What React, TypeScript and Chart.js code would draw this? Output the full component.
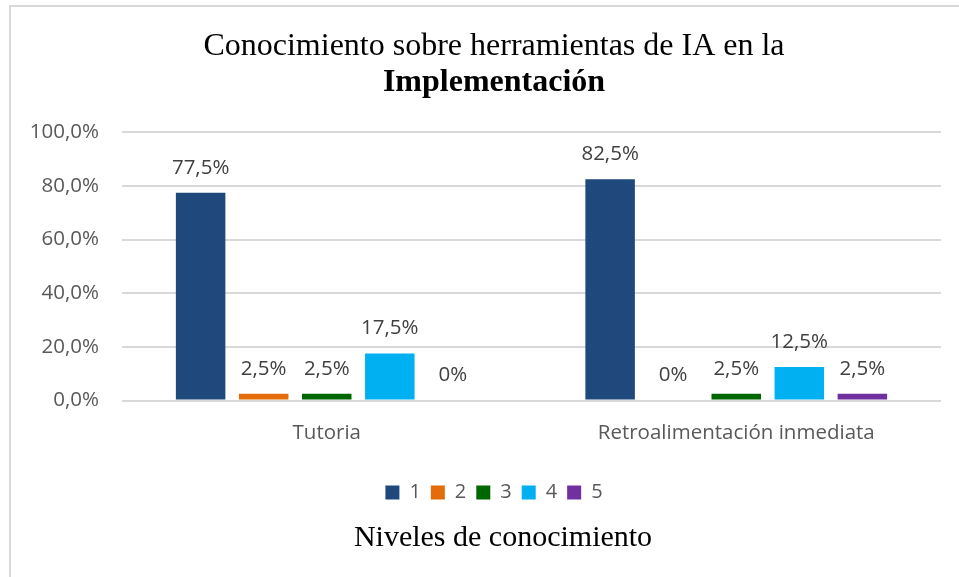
import React, { useEffect, useRef } from "react";
import { Chart, registerables } from "chart.js";

Chart.register(...registerables);

const categories = ["Tutoria", "Retroalimentación inmediata"];
const seriesNames = ["1", "2", "3", "4", "5"];
const level1 = [77.5, 82.5];
const level2 = [2.5, 0];
const level3 = [2.5, 2.5];
const level4 = [17.5, 12.5];
const level5 = [0, 2.5];
const seriesColors = ["#1F497D", "#E46C0A", "#006600", "#00B0F0", "#7030A0"];
const yTicks = [0, 20, 40, 60, 80, 100];
const titleLine1 = "Conocimiento sobre herramientas de IA en la";
const titleLine2 = "Implementación";
const bottomTitle = "Niveles de conocimiento";

const SANS = "'Open Sans', 'Noto Sans', sans-serif";
const SERIF = "'Liberation Serif', 'Times New Roman', serif";

const fmtPct = (v: number) => (v === 0 ? "0%" : v.toFixed(1).replace(".", ",") + "%");

const valueLabels = {
  id: "valueLabels",
  afterDatasetsDraw(chart: any) {
    const ctx = chart.ctx;
    ctx.save();
    ctx.font = `20.5px ${SANS}`;
    ctx.fillStyle = "#404040";
    ctx.textAlign = "center";
    ctx.textBaseline = "middle";
    chart.data.datasets.forEach((ds: any, i: number) => {
      const meta = chart.getDatasetMeta(i);
      meta.data.forEach((bar: any, j: number) => {
        ctx.fillText(fmtPct(ds.data[j]), bar.x, bar.y - 25);
      });
    });
    ctx.restore();
  },
};

const bottomText = {
  id: "bottomText",
  afterDraw(chart: any) {
    const ctx = chart.ctx;
    const lg = chart.legend;
    ctx.save();
    ctx.font = `30px ${SERIF}`;
    ctx.fillStyle = "#000000";
    ctx.textAlign = "center";
    ctx.textBaseline = "middle";
    ctx.fillText(bottomTitle, (lg.left + lg.right) / 2 + 9, chart.height - 39);
    ctx.restore();
  },
};

export default function App() {
  const ref = useRef<HTMLCanvasElement>(null);
  useEffect(() => {
    if (!ref.current) return;
    const seriesData = [level1, level2, level3, level4, level5];
    const chart = new Chart(ref.current, {
      type: "bar",
      data: {
        labels: categories,
        datasets: seriesNames.map((n, i) => ({
          label: n,
          data: seriesData[i],
          backgroundColor: seriesColors[i],
          borderWidth: 0,
          categoryPercentage: 0.77,
          barPercentage: 0.785,
        })),
      },
      options: {
        responsive: false,
        animation: false,
        layout: { padding: { left: 0, right: 0, top: 0, bottom: 64.5 } },
        plugins: {
          title: {
            display: true,
            text: titleLine1,
            color: "#000000",
            font: { family: SERIF, size: 32, weight: "normal", lineHeight: 1.1 },
            padding: { top: 22, bottom: 0 },
          },
          subtitle: {
            display: true,
            text: titleLine2,
            color: "#000000",
            font: { family: SERIF, size: 32, weight: "bold", lineHeight: 1.1 },
            padding: { top: 1, bottom: 32 },
          },
          legend: {
            position: "bottom",
            labels: {
              boxWidth: 14,
              boxHeight: 14,
              padding: 10,
              color: "#595959",
              font: { family: SANS, size: 20 },
            },
          },
          tooltip: { enabled: false },
        },
        scales: {
          x: {
            grid: { display: false, drawTicks: false },
            border: { display: false },
            ticks: { color: "#595959", font: { family: SANS, size: 20.5 }, padding: 20 },
            afterFit: (s: any) => {
              s.height = 72;
            },
          },
          y: {
            min: 0,
            max: 100,
            afterBuildTicks: (s: any) => {
              s.ticks = yTicks.map((v) => ({ value: v }));
            },
            grid: { color: "#d9d9d9", lineWidth: 2, drawTicks: false },
            border: { display: false },
            ticks: {
              color: "#595959",
              font: { family: SANS, size: 20.5 },
              padding: 23,
              callback: (v: any) => Number(v).toFixed(1).replace(".", ",") + "%",
            },
            afterFit: (s: any) => {
              s.width = 111;
            },
          },
          spacer: {
            type: "linear",
            position: "right",
            display: true,
            grid: { display: false, drawTicks: false },
            border: { display: false },
            ticks: { display: false },
            afterFit: (s: any) => {
              s.width = 36;
            },
          },
        },
      },
      plugins: [valueLabels, bottomText],
    });
    return () => chart.destroy();
  }, []);

  return (
    <div style={{ position: "fixed", left: 0, top: 0, width: 959, height: 577, overflow: "hidden", background: "#ffffff" }}>
      <div
        style={{
          position: "absolute",
          left: 9,
          top: 5,
          width: 1020,
          height: 700,
          border: "2px solid #d9d9d9",
          boxSizing: "border-box",
        }}
      />
      <canvas
        ref={ref}
        width={966}
        height={570}
        style={{ position: "absolute", left: 11, top: 7, width: 966, height: 570 }}
      />
    </div>
  );
}
